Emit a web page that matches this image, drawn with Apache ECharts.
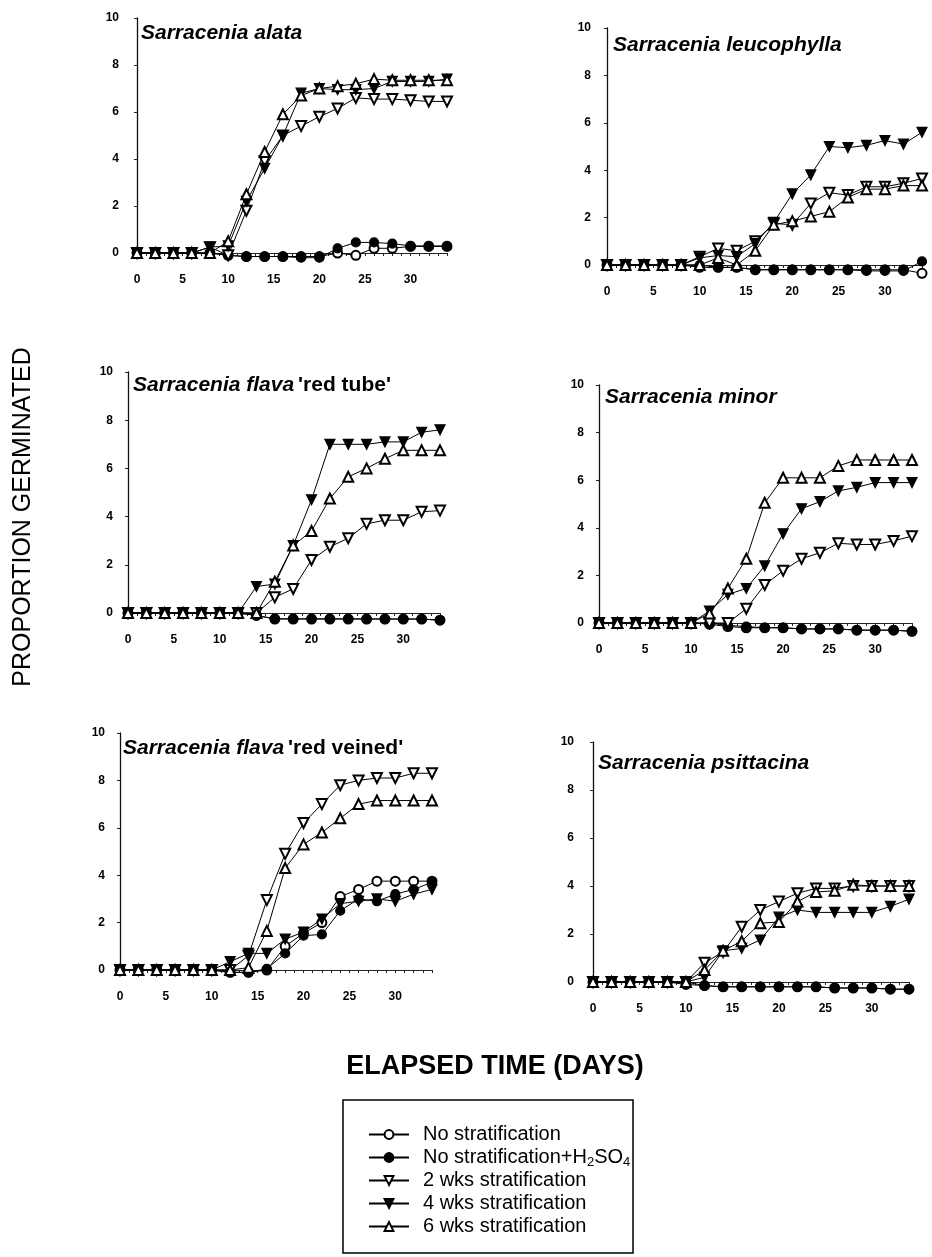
<!DOCTYPE html>
<html><head><meta charset="utf-8">
<script src="https://cdn.jsdelivr.net/npm/echarts@6/dist/echarts.min.js"></script>
<style>html,body{margin:0;padding:0;background:#fff}#c{width:932px;height:1257px}</style>
</head><body><div id="c"></div><script>
// ---------- data ----------
const days = [0,2,4,6,8,10,12,14,16,18,20,22,24,26,28,30,32,34];
const xTickLabels = [0,5,10,15,20,25,30];
const yTickLabels = [0,2,4,6,8,10];
const seriesNames = ['No stratification','No stratification+H2SO4','2 wks stratification','4 wks stratification','6 wks stratification'];
const panelTitles = ['Sarracenia alata','Sarracenia leucophylla',"Sarracenia flava|'red tube'",'Sarracenia minor',"Sarracenia flava|'red veined'",'Sarracenia psittacina'];

const alataNoStrat = [0,0,0,0,0,-0.1,-0.15,-0.15,-0.15,-0.15,-0.15,0.0,-0.1,0.2,0.2,0.28,0.28,0.28];
const alataH2SO4   = [0,0,0,0,0,-0.1,-0.15,-0.15,-0.15,-0.2,-0.2,0.2,0.45,0.45,0.4,0.3,0.3,0.3];
const alata2wk     = [0,0,0,0,0.25,-0.1,1.8,3.9,5.0,5.4,5.8,6.15,6.6,6.55,6.55,6.5,6.45,6.45];
const alata4wk     = [0,0,0,0,0.25,0.3,2.2,3.6,5.0,6.8,7.0,6.95,6.95,7.0,7.3,7.3,7.3,7.4];
const alata6wk     = [0,0,0,0,0,0.5,2.5,4.3,5.9,6.7,7.0,7.1,7.2,7.4,7.35,7.35,7.35,7.35];

const leucoNoStrat = [0,0,0,0,0,-0.1,-0.1,-0.1,-0.2,-0.2,-0.2,-0.2,-0.2,-0.2,-0.2,-0.2,-0.2,-0.35];
const leucoH2SO4   = [0,0,0,0,0,0,-0.1,-0.1,-0.2,-0.2,-0.2,-0.2,-0.2,-0.2,-0.25,-0.25,-0.25,0.15];
const leuco2wk     = [0,0,0,0,0,0.35,0.7,0.6,1.0,1.75,1.7,2.6,3.05,2.95,3.3,3.3,3.45,3.65];
const leuco4wk     = [0,0,0,0,0,0.3,0.4,0.35,0.9,1.8,3.0,3.8,5.0,4.95,5.05,5.25,5.1,5.6];
const leuco6wk     = [0,0,0,0,0,0,0.3,0.0,0.6,1.7,1.85,2.05,2.25,2.85,3.2,3.2,3.35,3.35];

const tubeNoStrat  = [0,0,0,0,0,0,0,-0.1,-0.25,-0.25,-0.25,-0.25,-0.25,-0.25,-0.25,-0.25,-0.25,-0.3];
const tubeH2SO4    = [0,0,0,0,0,0,0,-0.1,-0.24,-0.24,-0.24,-0.24,-0.24,-0.25,-0.25,-0.25,-0.25,-0.3];
const tube2wk      = [0,0,0,0,0,0,0,0,0.65,1.0,2.2,2.75,3.1,3.7,3.85,3.85,4.2,4.25];
const tube4wk      = [0,0,0,0,0,0,0,1.1,1.2,2.8,4.7,7.0,7.0,7.0,7.1,7.1,7.5,7.6];
const tube6wk      = [0,0,0,0,0,0,0,0,1.3,2.8,3.4,4.75,5.65,6.0,6.4,6.75,6.75,6.75];

const minorNoStrat = [0,0,0,0,0,0,-0.05,-0.15,-0.2,-0.2,-0.2,-0.25,-0.25,-0.25,-0.3,-0.3,-0.3,-0.35];
const minorH2SO4   = [0,0,0,0,0,0,0,-0.1,-0.15,-0.2,-0.2,-0.25,-0.25,-0.25,-0.3,-0.3,-0.3,-0.35];
const minor2wk     = [0,0,0,0,0,0,0,0,0.6,1.6,2.2,2.7,2.95,3.35,3.3,3.3,3.45,3.65];
const minor4wk     = [0,0,0,0,0,0,0.5,1.2,1.45,2.4,3.75,4.8,5.1,5.55,5.7,5.9,5.9,5.9];
const minor6wk     = [0,0,0,0,0,0,0.4,1.45,2.7,5.05,6.1,6.1,6.1,6.6,6.85,6.85,6.85,6.85];

const veinNoStrat  = [0,0,0,0,0,0,-0.1,-0.1,0.0,1.0,1.55,2.0,3.1,3.4,3.75,3.75,3.75,3.75];
const veinH2SO4    = [0,0,0,0,0,0,-0.1,-0.1,0.05,0.7,1.45,1.5,2.5,3.0,2.9,3.2,3.4,3.7];
const vein2wk      = [0,0,0,0,0,0,0,0.6,2.95,4.9,6.2,7.0,7.8,8.0,8.1,8.1,8.3,8.3];
const vein4wk      = [0,0,0,0,0,0,0.35,0.7,0.7,1.3,1.6,2.15,2.8,2.9,3.0,2.9,3.2,3.4];
const vein6wk      = [0,0,0,0,0,0,0,0.1,1.65,4.3,5.3,5.8,6.4,7.0,7.15,7.15,7.15,7.15];

const psitNoStrat  = [0,0,0,0,0,-0.1,-0.15,-0.2,-0.2,-0.2,-0.2,-0.2,-0.2,-0.25,-0.25,-0.25,-0.3,-0.3];
const psitH2SO4    = [0,0,0,0,0,0,-0.15,-0.2,-0.2,-0.2,-0.2,-0.2,-0.2,-0.25,-0.25,-0.25,-0.3,-0.3];
const psit2wk      = [0,0,0,0,0,0,0.8,1.25,2.3,3.0,3.35,3.7,3.9,3.9,4.0,4.0,4.0,4.0];
const psit4wk      = [0,0,0,0,0,0,0.2,1.3,1.4,1.75,2.7,3.0,2.9,2.9,2.9,2.9,3.15,3.45];
const psit6wk      = [0,0,0,0,0,0,0.5,1.3,1.7,2.45,2.5,3.35,3.75,3.8,4.05,4.0,4.0,4.0];

const panelData = [
  [alataNoStrat, alataH2SO4, alata2wk, alata4wk, alata6wk],
  [leucoNoStrat, leucoH2SO4, leuco2wk, leuco4wk, leuco6wk],
  [tubeNoStrat, tubeH2SO4, tube2wk, tube4wk, tube6wk],
  [minorNoStrat, minorH2SO4, minor2wk, minor4wk, minor6wk],
  [veinNoStrat, veinH2SO4, vein2wk, vein4wk, vein6wk],
  [psitNoStrat, psitH2SO4, psit2wk, psit4wk, psit6wk]
];

// ---------- layout ----------
const FONT = '"Liberation Sans", Arial, Helvetica, sans-serif';
const layout = [
  {left:137, top:18,  width:310, height:235, yOff:8, tl:141, tt:22},
  {left:607, top:28,  width:315, height:237, yOff:6, tl:613, tt:34},
  {left:128, top:372, width:312, height:241, yOff:5, tl:133, tt:374},
  {left:599, top:385, width:313, height:238, yOff:5, tl:605, tt:386},
  {left:120, top:733, width:312, height:237, yOff:5, tl:123, tt:737},
  {left:593, top:742, width:316, height:240, yOff:9, tl:598, tt:752}
];
const symbols = ['emptyCircle','circle','emptyTriangle','triangle','emptyTriangle'];
const rotates = [0,0,180,180,0];
const sizes = [9,9,10,10,10];
const minorTicks = [];
for (let d = 0; d <= 34; d++) minorTicks.push(d);

const grids = [], xAxes = [], yAxes = [], series = [], titles = [];
layout.forEach((p, i) => {
  grids.push({left:p.left, top:p.top, width:p.width, height:p.height, containLabel:false, outerBoundsMode:'none'});
  xAxes.push({
    gridIndex:i, type:'value', min:0, max:34, interval:5, offset:9,
    axisLine:{show:true, lineStyle:{color:'#222', width:1}},
    axisTick:{show:true, customValues:minorTicks, length:3, lineStyle:{color:'#222'}},
    axisLabel:{customValues:xTickLabels, color:'#000', fontFamily:FONT, fontWeight:'bold', fontSize:12, margin:12},
    splitLine:{show:false}
  });
  yAxes.push({
    gridIndex:i, type:'value', min:0, max:10, interval:2, offset:p.yOff,
    axisLine:{show:true, lineStyle:{color:'#111', width:1.3}},
    axisTick:{show:true, length:3, lineStyle:{color:'#222'}},
    axisLabel:{color:'#000', fontFamily:FONT, fontWeight:'bold', fontSize:12, margin:10},
    splitLine:{show:false}
  });
  const parts = panelTitles[i].split('|');
  const txt = parts.length > 1 ? '{i|' + parts[0] + '}{n|' + parts[1] + '}' : '{i|' + parts[0] + '}';
  titles.push({
    text: txt, left:p.tl, top:p.tt, padding:0,
    textStyle:{fontSize:21, fontFamily:FONT, color:'#000', lineHeight:22,
      rich:{
        i:{fontSize:21, fontFamily:FONT, fontStyle:'italic', fontWeight:'bold', color:'#000', lineHeight:22},
        n:{fontSize:21, fontFamily:FONT, fontStyle:'normal', fontWeight:'bold', color:'#000', lineHeight:22, padding:[0,0,0,4]}
      }}
  });
  panelData[i].forEach((arr, k) => {
    series.push({
      type:'line', name:seriesNames[k], xAxisIndex:i, yAxisIndex:i,
      data: days.map((d, j) => [d, arr[j]]),
      symbol:symbols[k], symbolRotate:rotates[k], symbolSize:sizes[k], showAllSymbol:true,
      clip:false, silent:true,
      lineStyle:{color:'#000', width:1},
      itemStyle:{color:'#000', borderColor:'#000', borderWidth:1.2},
      z: 2 + k
    });
  });
});

const chart = echarts.init(document.getElementById('c'), null, {renderer:'canvas'});
chart.setOption({
  backgroundColor:'#fff',
  animation:false,
  title:titles,
  grid:grids, xAxis:xAxes, yAxis:yAxes, series:series,
  legend:{
    orient:'vertical', left:363, top:1118, itemWidth:40, itemHeight:11, itemGap:0,
    selectedMode:false, data:seriesNames,
    formatter: n => n === 'No stratification+H2SO4' ? 'No stratification+H{sub|2}SO{sub|4}' : n,
    textStyle:{fontSize:20, fontFamily:FONT, color:'#000', lineHeight:23, padding:[0,0,0,9],
      rich:{sub:{fontSize:13, fontFamily:FONT, color:'#000', verticalAlign:'bottom', lineHeight:15}}}
  },
  graphic:[
    {type:'text', x:23, y:517, rotation:Math.PI/2,
      style:{text:'PROPORTION GERMINATED', font:'25px ' + FONT, fill:'#000', align:'center', verticalAlign:'middle', textAlign:'center', textVerticalAlign:'middle'}},
    {type:'text', x:495, y:1067,
      style:{text:'ELAPSED TIME (DAYS)', font:'bold 27px ' + FONT, fill:'#000', align:'center', verticalAlign:'middle', textAlign:'center', textVerticalAlign:'middle'}},
    {type:'rect', shape:{x:343, y:1100, width:290, height:153}, style:{fill:'none', stroke:'#000', lineWidth:1.5}}
  ]
});
</script></body></html>
